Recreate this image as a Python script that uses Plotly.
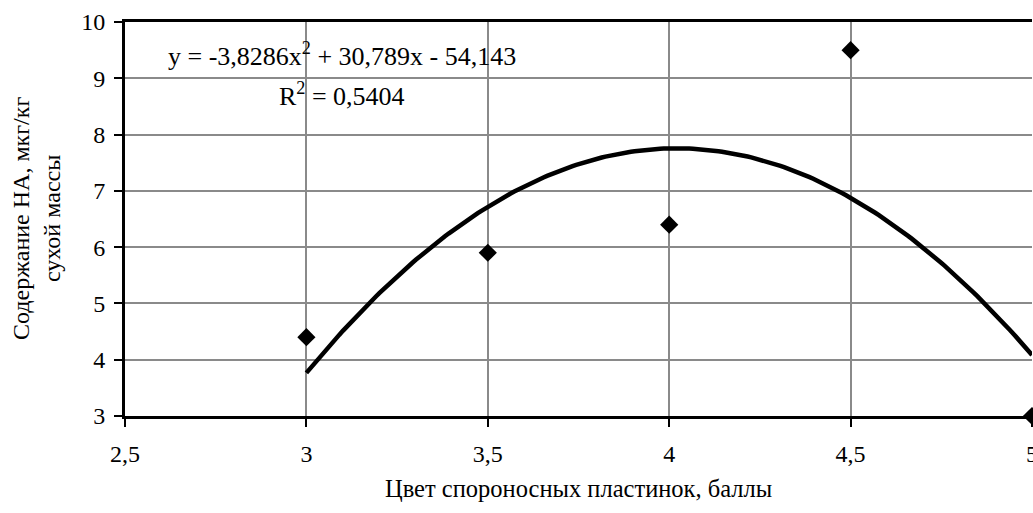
import numpy as np
import plotly.graph_objects as go

# Data
x_vals = [3.0, 3.5, 4.0, 4.5, 5.0]
y_vals = [4.4, 5.9, 6.4, 9.5, 3.0]
x_ticks = [2.5, 3.0, 3.5, 4.0, 4.5, 5.0]
x_tick_text = ["2,5", "3", "3,5", "4", "4,5", "5"]
y_ticks = [3, 4, 5, 6, 7, 8, 9, 10]
equation_text = "y = -3,8286x<sup>2</sup> + 30,789x - 54,143"
r2_text = "R<sup>2</sup> = 0,5404"
x_title = "Цвет спороносных пластинок, баллы"
y_title = "Содержание НА, мкг/кг<br>сухой массы"

# Polynomial (order 2) trendline fitted to the data
coef = np.polyfit(x_vals, y_vals, 2)
xt = np.linspace(min(x_vals), max(x_vals), 200)
yt = np.polyval(coef, xt)

FONT = "Liberation Serif, Times New Roman, serif"
FS = 24

fig = go.Figure()
fig.add_trace(go.Scatter(x=xt, y=yt, mode="lines",
                         line=dict(color="black", width=4.5),
                         hoverinfo="skip", showlegend=False))
fig.add_trace(go.Scatter(x=x_vals, y=y_vals, mode="markers",
                         marker=dict(symbol="diamond", size=14, color="black"),
                         cliponaxis=False, showlegend=False))

fig.update_layout(
    width=1033, height=513,
    margin=dict(l=125, r=1, t=22, b=97),
    paper_bgcolor="white", plot_bgcolor="white",
    separators=", ",
    font=dict(family=FONT, size=FS, color="black"),
    showlegend=False,
)
fig.update_xaxes(
    range=[2.5, 5], tickvals=x_ticks, ticktext=x_tick_text,
    automargin=False,
    showgrid=True, gridcolor="#8a8a8a", gridwidth=2,
    showline=True, linecolor="black", linewidth=3, mirror=True,
    ticks="outside", ticklen=8, tickwidth=2, tickcolor="black",
    ticklabelstandoff=6, ticklabeloverflow="allow", zeroline=False,
    tickfont=dict(family=FONT, size=FS, color="black"),
)
fig.update_yaxes(
    range=[3, 10], tickvals=y_ticks,
    automargin=False,
    showgrid=True, gridcolor="#8a8a8a", gridwidth=2,
    showline=True, linecolor="black", linewidth=3, mirror=False,
    ticks="outside", ticklen=8, tickwidth=2, tickcolor="black",
    ticklabelstandoff=4, zeroline=False,
    tickfont=dict(family=FONT, size=FS, color="black"),
)

fig.add_annotation(x=3.097, y=9.43, xref="x", yref="y", text=equation_text,
                   showarrow=False, xanchor="center", yanchor="middle",
                   font=dict(family=FONT, size=26, color="black"))
fig.add_annotation(x=3.097, y=8.71, xref="x", yref="y", text=r2_text,
                   showarrow=False, xanchor="center", yanchor="middle",
                   font=dict(family=FONT, size=26, color="black"))
fig.add_annotation(x=0.5, y=0, xref="paper", yref="paper", text=x_title,
                   showarrow=False, xanchor="center", yanchor="middle",
                   yshift=-72, font=dict(family=FONT, size=24.5, color="black"))
fig.add_annotation(x=0, y=0.5, xref="paper", yref="paper", text=y_title,
                   showarrow=False, xanchor="center", yanchor="middle",
                   textangle=-90, xshift=-89,
                   font=dict(family=FONT, size=FS, color="black"))

fig.write_html("out.html",
               config={"displayModeBar": False},
               post_script="document.body.style.margin='0';document.body.style.overflow='hidden';")
